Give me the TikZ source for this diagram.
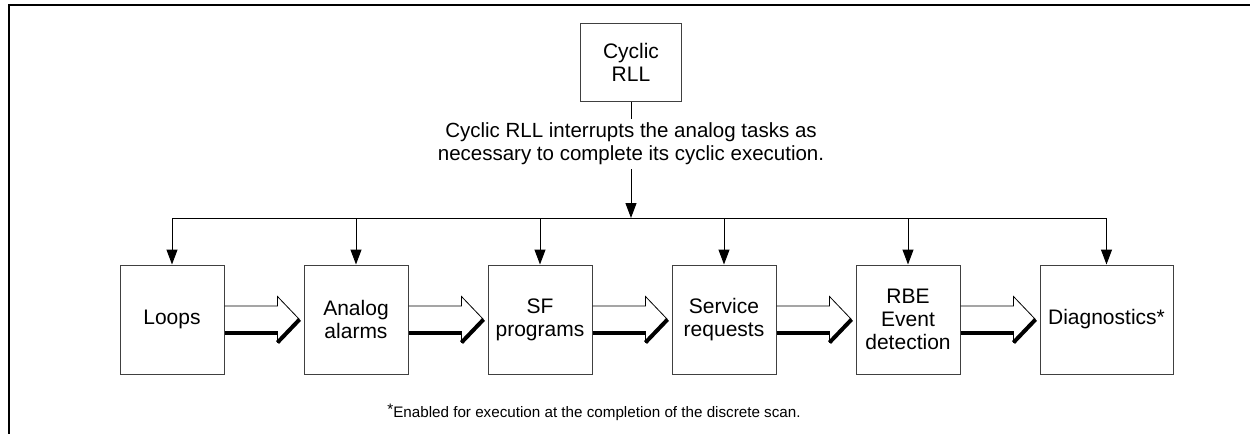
\documentclass[tikz,border=0pt]{standalone}
\usepackage{fontspec}
\setmainfont{Liberation Sans}
\usetikzlibrary{arrows.meta, positioning, calc}

% hollow block arrow with a dark lower edge, from one task to the next
\newcommand{\passon}[2]{%
    \coordinate (s) at (#1.east);
    \coordinate (t) at ($(#2.west)+(-2pt,0)$);
    \draw[thin] ($(s)+(0,6.75pt)$) -- ($(t)+(-11pt,6.75pt)$) -- ($(t)+(-11pt,11.5pt)$) -- (t);
    \draw[thin] ($(t)+(-11pt,-6.75pt)$) -- ($(t)+(-11pt,-11.5pt)$);
    \draw[line width=1.6pt] ($(s)+(0,-6.75pt)$) -- ($(t)+(-11pt,-6.75pt)$);
    \draw[line width=2pt] ($(t)+(-11pt,-11.5pt)$) -- (t);
}

\begin{document}
\begin{tikzpicture}[
        x=0.5pt, y=-0.5pt,
        node distance=39.5pt,
        font=\fontsize{10.5}{11.5}\selectfont,
        task/.style={rectangle, draw=black!75, line width=0.5pt, align=center, minimum width=52pt, minimum height=54.5pt, inner sep=1pt},
        line/.style={draw, line width=0.5pt},
        drop/.style={draw, line width=0.5pt, -{Triangle[length=7.5pt, width=5.5pt]}}
    ]
        \useasboundingbox (0,0) rectangle (1250,434);
        \draw[line width=1.3pt] (9,434) -- (9,5) -- (1250,5);

        % Cyclic RLL on top
        \node [task, minimum width=50.5pt, minimum height=39pt] (rll) at (631,62) {Cyclic\\RLL};
        \node [align=center, inner sep=2pt, font=\fontsize{10.25}{11.5}\selectfont] (note) at (631,144) {Cyclic RLL interrupts the analog tasks as\\necessary to complete its cyclic execution.};
        \coordinate (bus) at (631,218);

        \path [line] (rll) -- (note);
        \path [drop] (note) -- (bus);

        % Analog tasks
        \node [task] (loops) at (172,319.5) {Loops};
        \node [task, right=of loops] (alarms) {Analog\\alarms};
        \node [task, right=of alarms] (sfprog) {SF\\programs};
        \node [task, right=of sfprog] (service) {Service\\requests};
        \node [task, right=of service] (rbe) {RBE\\Event\\detection};
        \node [task, right=of rbe, minimum width=66.5pt] (diag) {Diagnostics*};

        \path [line] (loops.north |- bus) -- (diag.north |- bus);
        \foreach \t in {loops, alarms, sfprog, service, rbe, diag}
            \path [drop] (\t.north |- bus) -- (\t.north);

        \passon{loops}{alarms}
        \passon{alarms}{sfprog}
        \passon{sfprog}{service}
        \passon{service}{rbe}
        \passon{rbe}{diag}

        % footnote
        \node [font=\fontsize{7.6}{9}\selectfont] (foot) at (594,412) {\raisebox{0.35ex}{*}Enabled for execution at the completion of the discrete scan.};

    \end{tikzpicture}
\end{document}
